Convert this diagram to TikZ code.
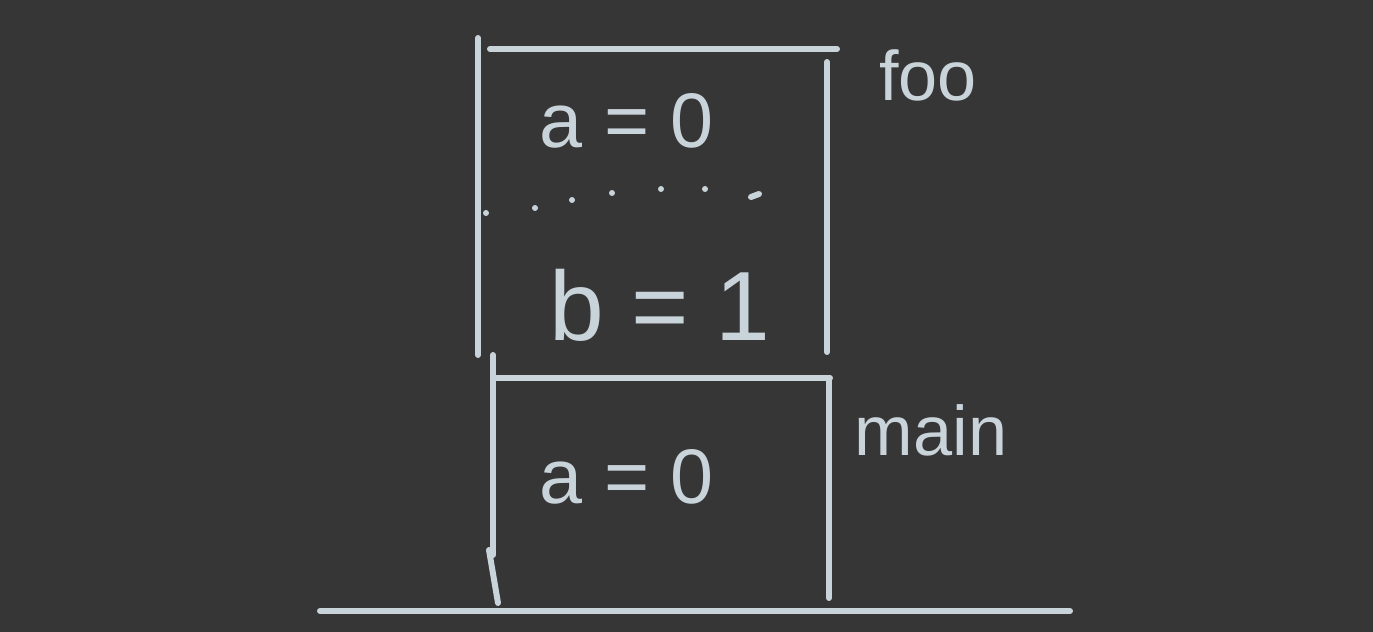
\documentclass[tikz,border=0pt]{standalone}
\usepackage{fontspec}
\setmainfont{Liberation Sans}
\definecolor{board}{HTML}{363636}
\definecolor{chalk}{HTML}{C9D3DA}
\tikzset{
	stroke/.style={chalk,line width=1.7pt,line cap=round},
	hand/.style={chalk,inner sep=0pt,anchor=base}
}
\begin{document}
\begin{tikzpicture}
		\fill[board] (0,0) rectangle (13.73,-6.32);
		% frame of foo
		\draw[stroke] (4.78,-0.38) -- (4.78,-3.55);
		\draw[stroke] (4.90,-0.49) -- (8.37,-0.49);
		\draw[stroke] (8.27,-0.62) -- (8.27,-3.52);
		\foreach \x/\y in {4.86/2.13,5.35/2.08,5.72/2.00,6.12/1.93,6.61/1.89,7.05/1.89}
			\fill[chalk] (\x,-\y) circle (0.03);
		\draw[stroke] (7.51,-1.97) -- (7.59,-1.94);
		\node[hand,font=\fontsize{22}{26}\selectfont] (fooa) at (6.27,-1.47) {a = 0};
		\node[hand,font=\fontsize{28}{34}\selectfont] (foob) at (6.6,-3.4) {b = 1};
		\node[hand,font=\fontsize{20}{24}\selectfont] (foo) at (9.28,-1.0) {foo};
		% frame of main
		\draw[stroke] (4.93,-3.55) -- (4.93,-5.55);
		\draw[stroke] (4.89,-5.5) -- (4.98,-6.03);
		\draw[stroke] (4.93,-3.78) -- (8.30,-3.78);
		\draw[stroke] (8.29,-3.78) -- (8.29,-5.98);
		\node[hand,font=\fontsize{22}{26}\selectfont] (maina) at (6.27,-5.03) {a = 0};
		\node[hand,font=\fontsize{20}{24}\selectfont] (main) at (9.31,-4.55) {main};
		% ground
		\draw[stroke] (3.2,-6.11) -- (10.7,-6.11);
	\end{tikzpicture}
\end{document}
